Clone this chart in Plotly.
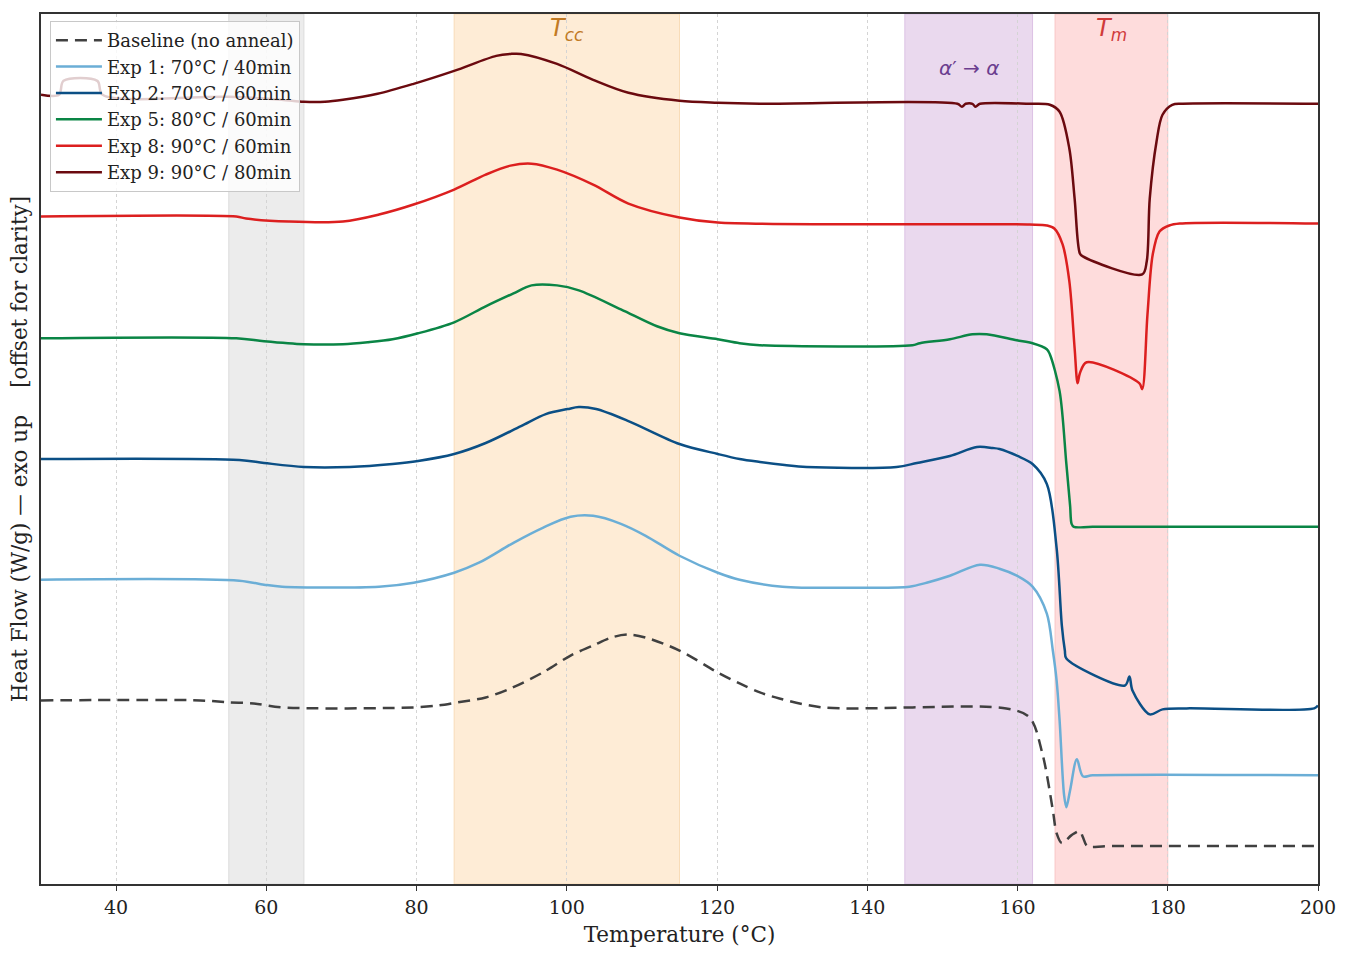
import plotly.graph_objects as go

# ---- data (temperature in °C, heat flow in W/g relative to each curve's offset) ----
names = ["Baseline (no anneal)", "Exp 1: 70°C / 40min", "Exp 2: 70°C / 60min",
         "Exp 5: 80°C / 60min", "Exp 8: 90°C / 60min", "Exp 9: 90°C / 80min"]
offsets = [0.0, 1.2, 2.4, 3.6, 4.8, 6.0]
colors = ["#404040", "#6baed6", "#0b4f85", "#0a8545", "#dc1f1f", "#6b0a0f"]

T_base = [30, 51.2, 55.0, 58.3, 62.1, 79.6, 83.0, 85.4, 89.2, 92.5, 96.8, 100.5, 103.5, 105.9,
          108.2, 110.5, 115.0, 120.1, 123.0, 125.7, 128.3, 134.1, 158.5, 161.6, 163.3, 164.7,
          165.2, 165.9, 167.2, 168.3, 168.7, 169.3, 172.0, 200]
H_base = [0.00, 0.00, -0.02, -0.03, -0.07, -0.07, -0.05, -0.02, 0.03, 0.12, 0.28, 0.45, 0.55, 0.63,
          0.66, 0.63, 0.50, 0.28, 0.17, 0.08, 0.02, -0.07, -0.08, -0.17, -0.53, -1.10,
          -1.33, -1.43, -1.35, -1.31, -1.37, -1.46, -1.46, -1.46]

T_e1 = [30, 56.4, 59.7, 62.1, 75.0, 79.6, 85.0, 88.3, 92.9, 96.8, 100.5, 103.5, 107.2, 110.5,
        115.0, 120.1, 123.0, 128.7, 139.9, 145.6, 147.9, 151.0, 155.0, 157.6, 159.9, 162.0,
        163.9, 164.7, 165.2, 165.6, 166.2, 166.5, 167.0, 167.9, 168.7, 170.0, 200]
H_e1 = [0.01, 0.00, -0.04, -0.06, -0.06, -0.02, 0.08, 0.18, 0.38, 0.53, 0.64, 0.65, 0.57, 0.45,
        0.25, 0.08, 0.01, -0.06, -0.07, -0.06, -0.02, 0.05, 0.16, 0.12, 0.05, -0.06,
        -0.33, -0.70, -1.00, -1.40, -2.15, -2.27, -2.10, -1.79, -1.96, -1.95, -1.95]

T_e2 = [30, 56.4, 59.7, 65.0, 71.1, 76.8, 80.2, 85.0, 89.2, 93.9, 97.2, 100.1, 101.6, 103.9,
        108.2, 115.0, 120.1, 123.0, 125.7, 129.0, 131.9, 143.9, 146.6, 151.0, 154.6, 156.7,
        157.6, 160.0, 162.0, 163.9, 165.2, 165.9, 166.3, 166.5, 174.3, 174.9, 175.3, 177.6,
        179.3, 182.5, 199.5, 200]
H_e2 = [0.02, 0.01, -0.02, -0.06, -0.06, -0.03, 0.00, 0.07, 0.18, 0.35, 0.47, 0.52, 0.54, 0.52,
        0.40, 0.17, 0.07, 0.02, -0.01, -0.04, -0.06, -0.06, -0.02, 0.05, 0.14, 0.13,
        0.12, 0.05, -0.03, -0.23, -0.87, -1.65, -1.90, -1.98, -2.25, -2.16, -2.30, -2.54,
        -2.49, -2.48, -2.48, -2.45]

T_e5 = [30, 56.0, 59.7, 65.0, 70.2, 73.5, 76.8, 80.2, 85.0, 89.2, 92.9, 95.3, 98.7, 101.6,
        107.2, 112.0, 115.0, 120.1, 123.0, 125.7, 146.0, 147.0, 151.0, 154.0, 155.9, 159.9,
        162.0, 163.9, 164.3, 165.6, 166.5, 167.0, 167.2, 167.5, 170.0, 200]
H_e5 = [0.03, 0.03, 0.00, -0.03, -0.03, -0.01, 0.02, 0.08, 0.19, 0.35, 0.48, 0.56, 0.56, 0.51,
        0.32, 0.15, 0.08, 0.02, -0.02, -0.04, -0.04, -0.02, 0.02, 0.07, 0.07, 0.01,
        -0.02, -0.08, -0.13, -0.50, -1.23, -1.65, -1.83, -1.86, -1.86, -1.86]

T_e8 = [30, 56.0, 57.3, 63.0, 70.2, 75.0, 79.6, 85.0, 89.2, 92.5, 95.3, 98.7, 103.5, 108.2,
        115.0, 120.1, 161.6, 163.9, 164.9, 166.0, 166.9, 167.6, 168.0, 168.3, 169.2, 176.2,
        176.6, 177.3, 178.0, 178.9, 180.2, 181.6, 200]
H_e8 = [0.05, 0.05, 0.03, 0.00, 0.00, 0.07, 0.17, 0.32, 0.47, 0.56, 0.58, 0.52, 0.37, 0.18,
        0.04, -0.01, -0.03, -0.04, -0.07, -0.23, -0.60, -1.27, -1.62, -1.52, -1.41, -1.62,
        -1.68, -0.93, -0.33, -0.10, -0.04, -0.02, -0.02]

T_e9 = [30, 32.4, 33.0, 37.5, 38.2, 55.0, 62.0, 65.0, 67.8, 70.2, 74.8, 79.6, 85.0, 90.6,
        92.5, 93.9, 98.7, 103.5, 108.2, 115.0, 120.1, 125.7, 152.0, 152.6, 153.1, 154.0,
        154.4, 155.0, 161.6, 164.3, 165.6, 166.9, 167.6, 168.3, 168.7, 176.6, 177.2, 177.6,
        178.5, 179.3, 180.6, 182.0, 200]
H_e9 = [0.07, 0.07, 0.21, 0.21, 0.07, 0.05, 0.02, 0.00, 0.00, 0.02, 0.08, 0.18, 0.31, 0.46,
        0.48, 0.48, 0.38, 0.22, 0.09, 0.01, -0.01, -0.02, -0.02, -0.05, -0.02, -0.02,
        -0.05, -0.02, -0.02, -0.03, -0.10, -0.47, -0.97, -1.52, -1.55, -1.73, -1.60, -0.97,
        -0.40, -0.13, -0.03, -0.02, -0.02]

temps = [T_base, T_e1, T_e2, T_e5, T_e8, T_e9]
flows = [H_base, H_e1, H_e2, H_e5, H_e8, H_e9]

bands = [(55, 65, "#ececec", "#dcdcdc"), (85, 115, "#feecd6", "#f8dcb8"),
         (145, 162, "#ead9ee", "#dcc2e4"), (165, 180, "#fedcdc", "#f8c4c4")]

SERIF = "DejaVu Serif"

fig = go.Figure()
for T, H, off, name, col in zip(temps, flows, offsets, names, colors):
    fig.add_trace(go.Scatter(
        x=T, y=[h + off for h in H], mode="lines", name=name,
        line=dict(color=col, width=2.5, dash="12px,7px" if name.startswith("Baseline") else "solid",
                  shape="spline", smoothing=0.9),
    ))

for x0, x1, fc, lc in bands:
    fig.add_shape(type="rect", xref="x", yref="paper", x0=x0, x1=x1, y0=0, y1=1,
                  fillcolor=fc, line=dict(color=lc, width=1), layer="below")

fig.add_annotation(x=100, y=6.72, xref="x", yref="y", text="<i>T</i><sub><i>cc</i></sub>",
                   showarrow=False, font=dict(family="DejaVu Sans", size=24, color="#c27a24"))
fig.add_annotation(x=153.5, y=6.34, xref="x", yref="y", text="<i>α</i>′ → <i>α</i>",
                   showarrow=False, font=dict(family="DejaVu Sans", size=20, color="#6b3d8f"))
fig.add_annotation(x=172.5, y=6.72, xref="x", yref="y", text="<i>T</i><sub><i>m</i></sub>",
                   showarrow=False, font=dict(family="DejaVu Sans", size=24, color="#d03a3a"))

fig.update_layout(
    width=1349, height=958,
    margin=dict(l=41, r=31, t=12, b=74),
    paper_bgcolor="white", plot_bgcolor="white",
    font=dict(family=SERIF, size=19, color="#222"),
    showlegend=True,
    legend=dict(x=0.007, y=0.992, xanchor="left", yanchor="top",
                bgcolor="rgba(255,255,255,0.8)", bordercolor="#c8c8c8", borderwidth=1,
                font=dict(family=SERIF, size=18, color="#222"), tracegroupgap=0,
                itemwidth=46),
)
fig.update_xaxes(range=[30, 200], tickvals=[40, 60, 80, 100, 120, 140, 160, 180, 200],
                 ticks="outside", ticklen=5, tickwidth=1.2, tickcolor="#333",
                 showgrid=True, gridcolor="#d4d4d4", griddash="dot", gridwidth=0.8,
                 showline=True, linecolor="#333", linewidth=1.6, mirror=True,
                 zeroline=False, tickfont=dict(family=SERIF, size=19),
                 title=dict(text="Temperature (°C)", font=dict(family=SERIF, size=21.5), standoff=10))
fig.update_yaxes(range=[-1.84, 6.88], showticklabels=False, ticks="", showgrid=False,
                 showline=True, linecolor="#333", linewidth=1.6, mirror=True, zeroline=False,
                 title=dict(text="Heat Flow (W/g) — exo up\u00a0\u00a0\u00a0\u00a0[offset for clarity]",
                            font=dict(family=SERIF, size=21.5), standoff=6))

fig.write_html("out.html")
